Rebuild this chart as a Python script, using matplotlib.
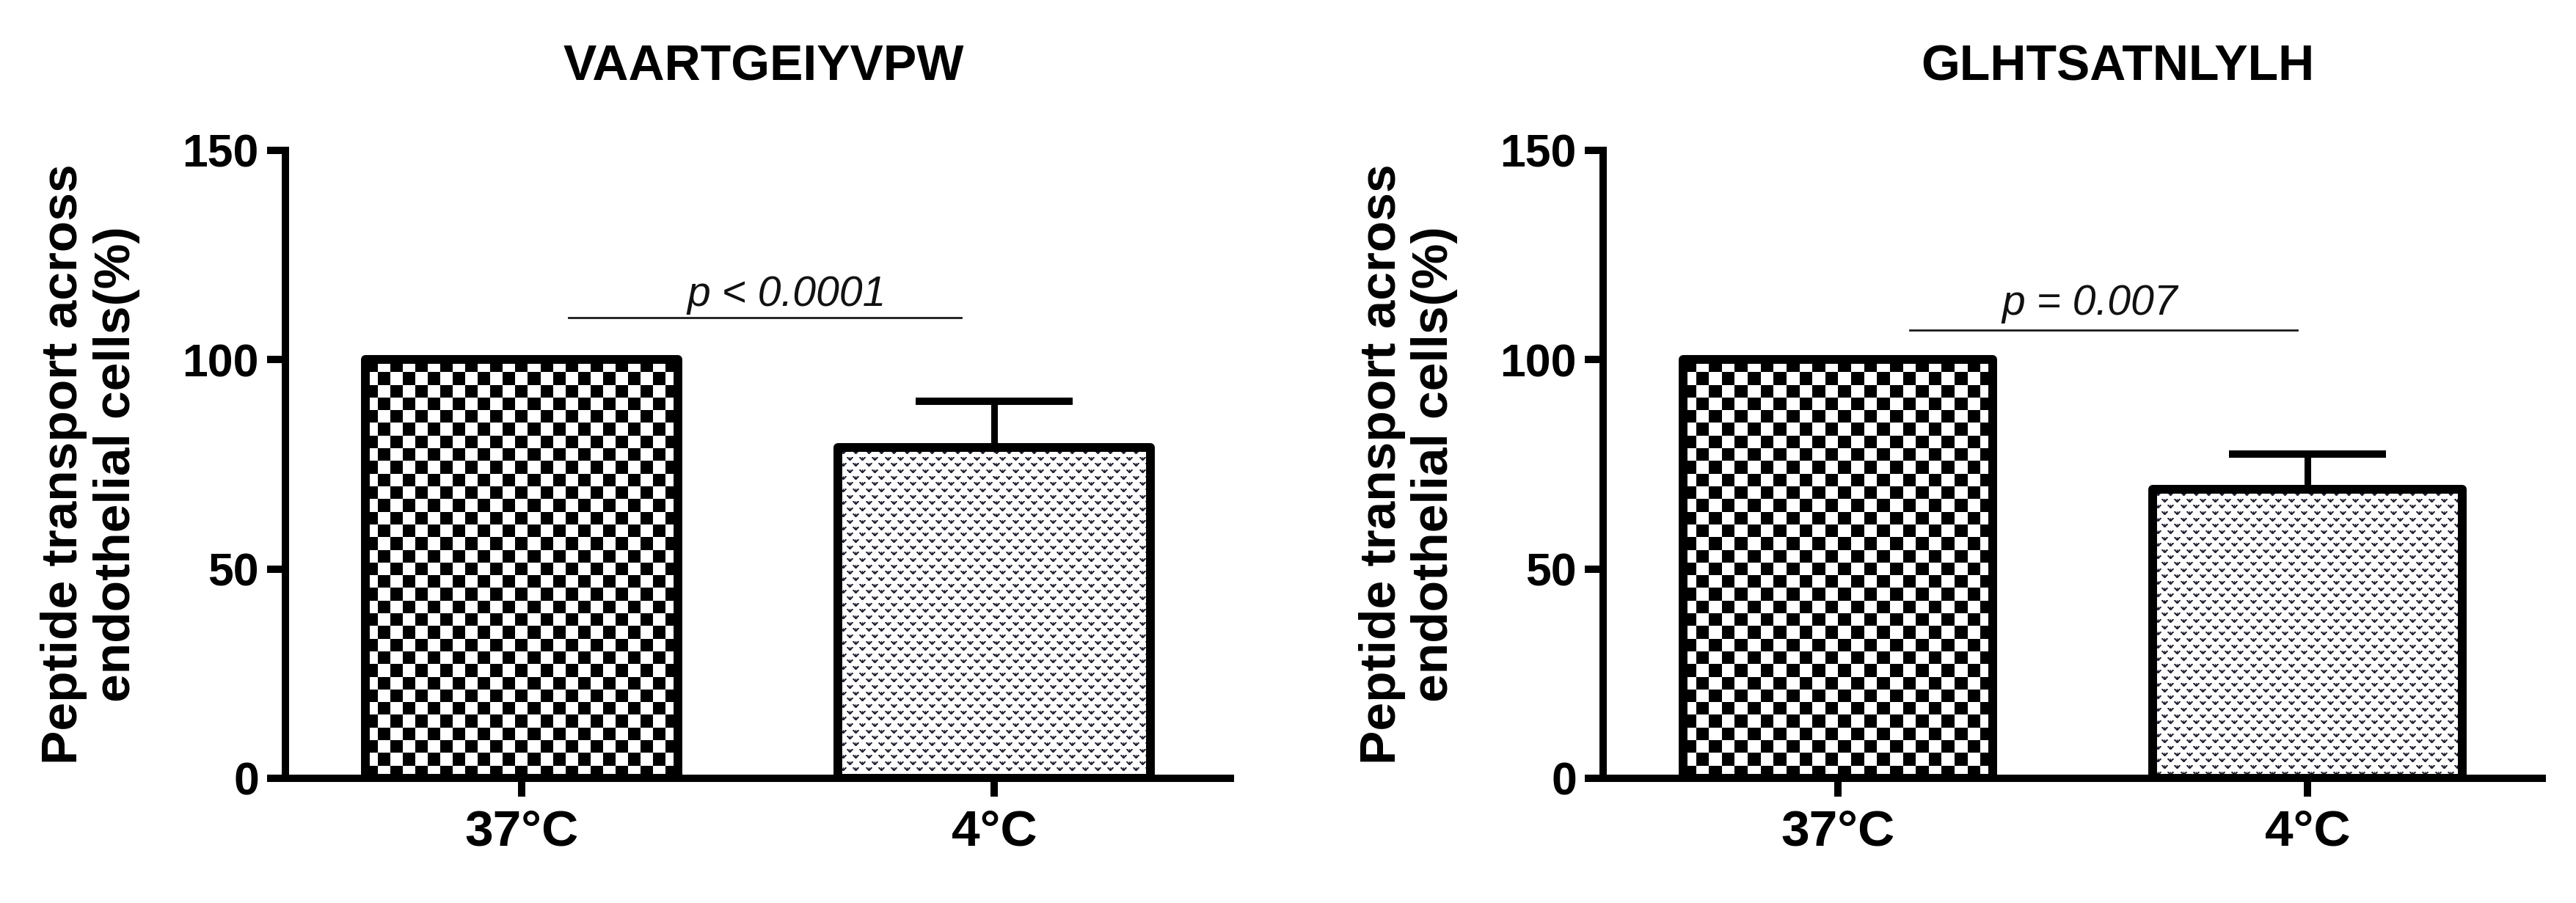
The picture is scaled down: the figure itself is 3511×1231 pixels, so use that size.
import numpy as np
import matplotlib
matplotlib.use('Agg')
import matplotlib.pyplot as plt

# ---------------- data ----------------
categories = ['37°C', '4°C']
titles = ['VAARTGEIYVPW', 'GLHTSATNLYLH']
means_left = [100, 79]
sem_left = [0, 11]
means_right = [100, 69]
sem_right = [0, 8.5]
p_labels = ['p < 0.0001', 'p = 0.007']
yticks = [0, 50, 100, 150]
ylabel = 'Peptide transport across\nendothelial cells(%)'

# ---------------- figure ----------------
W, H, DPI = 3511, 1231, 100
plt.rcParams['font.family'] = ['Liberation Sans', 'DejaVu Sans']
fig = plt.figure(figsize=(W / DPI, H / DPI), dpi=DPI)
fig.patch.set_facecolor('white')


def px_rect(x0, x1, ytop, ybot):
    return [x0 / W, (H - ybot) / H, (x1 - x0) / W, (ybot - ytop) / H]


panels = [
    dict(rect=px_rect(389, 1677, 205, 1061), means=means_left, sems=sem_left,
         title=titles[0], p=p_labels[0], sig_x=(0.10, 0.93), sig_y=110,
         p_x=0.56, p_y=112.8, title_x=0.506),
    dict(rect=px_rect(2185, 3465, 205, 1061), means=means_right, sems=sem_right,
         title=titles[1], p=p_labels[1], sig_x=(0.153, 0.978), sig_y=107,
         p_x=0.536, p_y=110.8, title_x=0.548),
]

CELL = 17.3  # texture cell size in pixels
DARK = np.array([0.13, 0.13, 0.19])


def checker_texture(h_px, w_px):
    nr = max(1, int(round(h_px / CELL)))
    nc = max(1, int(round(w_px / CELL)))
    r, c = np.indices((nr, nc))
    return ((r + c) % 2).astype(float)


MARK = np.array([
    [0.8, 1.0, 0.5, 0.0, 0.9, 0.0, 0.5, 1.0, 0.8],
    [0.5, 1.0, 1.0, 0.5, 1.0, 0.5, 1.0, 1.0, 0.5],
    [0.0, 0.5, 1.0, 1.0, 1.0, 1.0, 1.0, 0.5, 0.0],
    [0.0, 0.0, 0.6, 1.0, 1.0, 1.0, 0.6, 0.0, 0.0],
    [0.0, 0.0, 0.0, 0.7, 1.0, 0.7, 0.0, 0.0, 0.0],
])


def dot_texture(h_px, w_px):
    h, w = int(round(h_px)), int(round(w_px))
    alpha = np.zeros((h + 20, w + 40))
    mh, mw = MARK.shape
    nrow = int(h / (CELL / 2)) + 3
    ncol = int(w / CELL) + 3
    for i in range(nrow):
        y = int(round(4 + i * CELL / 2))
        off = (CELL / 2) if i % 2 else 0.0
        for j in range(ncol):
            x = int(round(3 + j * CELL + off))
            if y + mh <= alpha.shape[0] and x + mw <= alpha.shape[1]:
                alpha[y:y + mh, x:x + mw] = np.maximum(alpha[y:y + mh, x:x + mw], MARK)
    alpha = alpha[:h, :w]
    img = 1 - alpha[..., None] * (1 - DARK[None, None, :])
    return img


x = np.arange(len(categories))
for pan in panels:
    ax = fig.add_axes(pan['rect'])
    ax.set_xlim(-0.5, 1.5)
    ax.set_ylim(0, 150)
    bars = ax.bar(x, pan['means'], width=0.66, facecolor='none', edgecolor='black',
                  linewidth=8.6, zorder=2, joinstyle='round')
    # texture fills
    for k, rect in enumerate(bars.patches):
        x0, y0 = rect.get_x(), rect.get_y()
        x1, y1 = x0 + rect.get_width(), y0 + rect.get_height()
        (px0, py0), (px1, py1) = ax.transData.transform([[x0, y0], [x1, y1]])
        h_px, w_px = abs(py1 - py0), abs(px1 - px0)
        if k == 0:
            tex = checker_texture(h_px, w_px)
            im = ax.imshow(tex, cmap='gray', vmin=0, vmax=1, extent=(x0, x1, y0, y1),
                           origin='upper', interpolation='nearest', aspect='auto', zorder=1)
        else:
            tex = dot_texture(h_px, w_px)
            im = ax.imshow(tex, extent=(x0, x1, y0, y1), origin='upper',
                           interpolation='nearest', aspect='auto', zorder=1)
        im.set_clip_path(rect)
    ax.set_xlim(-0.5, 1.5)
    ax.set_ylim(0, 150)

    ax.errorbar(x, pan['means'], yerr=[np.zeros(len(x)), pan['sems']], fmt='none',
                ecolor='black', elinewidth=6.5, capsize=77, capthick=7.2, zorder=3)

    for s in ['top', 'right']:
        ax.spines[s].set_visible(False)
    for s in ['left', 'bottom']:
        ax.spines[s].set_linewidth(7.2)
        ax.spines[s].set_color('black')

    ax.set_yticks(yticks)
    ax.set_xticks(x)
    ax.set_xticklabels(categories, fontsize=50, fontweight='bold')
    ax.tick_params(axis='both', direction='out', length=18, width=7.2, color='black')
    ax.tick_params(axis='y', labelsize=45, pad=8)
    ax.tick_params(axis='x', pad=12)
    for lab in ax.get_yticklabels():
        lab.set_fontweight('bold')

    ax.set_ylabel(ylabel, fontsize=50, fontweight='bold', linespacing=1.15)
    axw_px = pan['rect'][2] * W
    ax.yaxis.set_label_coords(-198 / axw_px, 0.5)

    ax.text(pan['title_x'], 1 + 95 / 856, pan['title'], transform=ax.transAxes,
            ha='center', va='baseline', fontsize=49, fontweight='bold')

    ax.plot(pan['sig_x'], [pan['sig_y']] * 2, color='#1a1a1a', lw=2.0, zorder=3,
            clip_on=False)
    ax.text(pan['p_x'], pan['p_y'], pan['p'], ha='center', va='baseline',
            fontsize=41, style='italic', color='#111111')

fig.savefig('out.png', dpi=DPI, facecolor='white')
